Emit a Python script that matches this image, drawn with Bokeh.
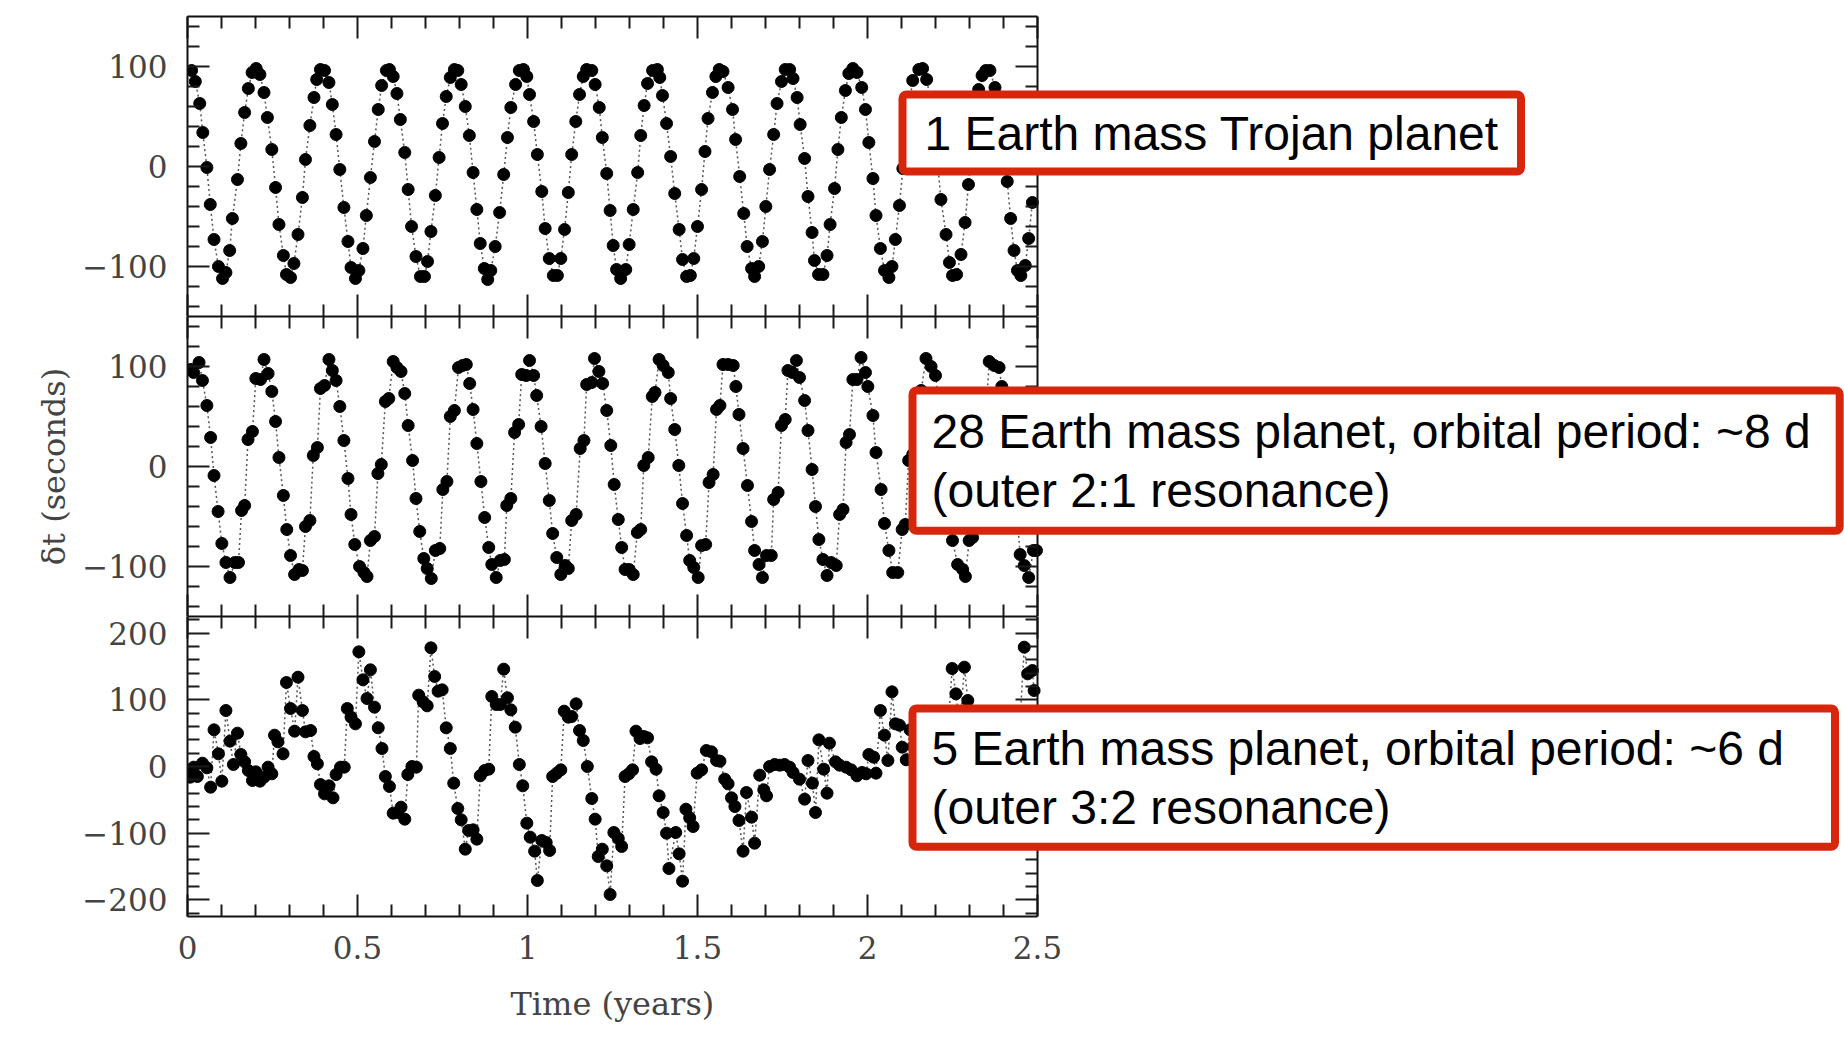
from bokeh.plotting import figure
from bokeh.layouts import column
from bokeh.models import LinearAxis, FixedTicker, Range1d, Label, Title, CustomJSTickFormatter
from bokeh.embed import file_html
from bokeh.resources import INLINE

# ---------------- data ----------------
# Panel 1: 1 Earth mass Trojan planet
trojan_t = [0.012,0.023,0.036,0.045,0.057,0.067,0.078,0.091,0.103,0.113,
    0.124,0.132,0.147,0.157,0.168,0.179,0.190,0.202,0.213,0.225,
    0.235,0.248,0.259,0.269,0.282,0.291,0.303,0.313,0.325,0.338,
    0.347,0.360,0.372,0.380,0.391,0.403,0.416,0.426,0.437,0.448,
    0.460,0.472,0.481,0.494,0.504,0.516,0.526,0.538,0.550,0.561,
    0.571,0.585,0.594,0.605,0.616,0.626,0.639,0.649,0.659,0.672,
    0.685,0.697,0.706,0.716,0.729,0.740,0.750,0.761,0.773,0.785,
    0.795,0.805,0.817,0.829,0.840,0.851,0.861,0.873,0.883,0.892,
    0.905,0.918,0.930,0.941,0.951,0.965,0.976,0.988,0.998,1.006,
    1.018,1.029,1.042,1.052,1.064,1.076,1.088,1.098,1.109,1.120,
    1.130,1.142,1.153,1.164,1.174,1.189,1.199,1.211,1.220,1.233,
    1.243,1.252,1.262,1.274,1.289,1.299,1.311,1.324,1.333,1.343,
    1.353,1.368,1.382,1.389,1.397,1.409,
    1.421,1.433,1.446,1.456,1.468,1.479,1.489,1.500,1.512,1.522,
    1.531,1.544,1.554,1.564,1.575,1.590,1.603,1.612,1.624,1.636,
    1.646,1.659,1.668,1.680,1.691,1.701,1.712,1.724,1.734,1.747,
    1.758,1.771,1.781,1.793,1.802,1.815,1.825,1.837,1.844,1.856,
    1.869,1.881,1.890,1.903,1.913,1.923,1.935,1.945,1.957,1.969,
    1.983,1.994,2.004,2.016,2.025,2.038,2.050,2.063,2.072,2.082,
    2.094,2.104,2.114,2.123,2.133,2.151,2.162,2.174,2.185,2.195,
    2.205,2.216,2.231,2.241,2.250,2.262,2.275,2.287,2.297,2.307,
    2.317,2.327,2.337,2.348,2.360,2.375,2.387,2.399,2.411,2.421,
    2.431,2.441,2.451,2.464,2.474,2.485]
trojan_dt = [96,85,63,34,-1,-38,-73,-100,-112,-106,
    -84,-52,-13,23,54,78,94,98,92,74,
    49,17,-21,-58,-89,-108,-111,-97,-68,-31,
    7,41,69,87,97,96,84,62,32,-3,
    -41,-75,-101,-112,-104,-82,-49,-11,25,57,
    81,96,97,90,73,47,14,-23,-60,-90,
    -110,-110,-95,-65,-29,9,43,70,89,97,
    96,82,60,31,-6,-43,-77,-102,-113,-104,
    -80,-46,-8,29,59,82,96,97,90,72,
    45,12,-25,-62,-92,-109,-109,-92,-63,-26,
    12,45,72,90,97,96,82,59,29,-7,
    -44,-79,-103,-112,-103,-78,-43,-6,31,61,
    83,96,97,89,71,43,
    10,-27,-63,-93,-110,-109,-92,-60,-23,15,
    48,74,90,97,95,79,57,27,-10,-47,
    -80,-102,-110,-100,-75,-40,-3,32,63,85,
    97,97,88,69,42,8,-30,-66,-94,-108,
    -108,-89,-58,-22,17,49,76,93,98,94,
    79,57,24,-12,-49,-82,-104,-111,-100,-73,
    -39,-2,33,62,86,97,98,87,67,40,
    7,-33,-68,-96,-109,-108,-88,-56,-18,17,
    48,77,91,96,96,79,53,20,-15,-52,
    -84,-104,-109,-99,-72,-36]

# Panel 2: 28 Earth mass planet, outer 2:1 resonance
res21_t = [0.010,0.018,0.034,0.044,0.057,0.068,0.078,0.090,0.101,0.113,
    0.125,0.139,0.150,0.159,0.168,0.178,0.191,0.201,0.215,0.225,
    0.237,0.248,0.259,0.269,0.282,0.292,0.303,0.315,0.328,0.338,
    0.347,0.360,0.370,0.382,0.391,0.403,0.416,0.426,0.437,0.448,
    0.460,0.472,0.481,0.492,0.506,0.519,0.528,0.538,0.550,0.560,
    0.570,0.582,0.592,0.605,0.616,0.628,0.639,0.649,0.662,0.672,
    0.683,0.695,0.705,0.717,0.729,0.742,0.751,0.763,0.773,0.785,
    0.797,0.809,0.820,0.830,0.840,0.851,0.863,0.874,0.886,0.895,
    0.908,0.920,0.932,0.939,0.951,0.962,0.974,0.983,0.996,1.006,
    1.018,1.027,1.040,1.052,1.064,1.074,1.086,1.098,1.111,1.120,
    1.130,1.143,1.155,1.166,1.174,1.189,1.197,1.210,1.221,1.233,
    1.245,1.255,1.267,1.277,1.287,1.299,1.311,1.323,1.333,1.342,
    1.355,1.367,1.375,1.387,1.399,1.414,1.421,1.433,1.445,1.456,
    1.468,1.477,1.489,1.502,1.512,1.524,1.534,1.546,1.556,1.566,
    1.575,1.590,1.605,1.613,1.622,1.634,1.647,1.659,1.668,1.681,
    1.691,1.703,1.717,1.724,1.737,1.747,1.758,1.766,1.779,1.791,
    1.800,1.815,1.825,1.837,1.847,1.857,1.869,1.881,1.893,1.908,
    1.918,1.928,1.937,1.947,1.957,1.969,1.981,1.994,2.001,2.016,
    2.025,2.040,2.050,2.063,2.074,2.089,2.102,
    2.111,2.121,2.133,2.145,2.158,2.172,2.187,2.200,2.209,2.219,
    2.231,2.241,2.250,2.265,2.280,2.288,2.299,2.309,2.321,2.331,
    2.341,2.350,2.358,2.373,2.387,2.395,2.405,2.417,2.430,2.441,
    2.449,2.461,2.474,2.488,2.497]
res21_dt = [97,94,104,86,61,29,-9,-45,-77,-96,
    -111,-96,-96,-44,-39,27,35,88,87,107,
    93,75,45,9,-29,-63,-89,-108,-103,-104,
    -60,-54,11,19,78,81,107,96,86,60,
    26,-12,-48,-78,-100,-106,-110,-74,-70,-7,
    2,65,68,105,99,95,73,41,6,-32,
    -65,-92,-102,-112,-84,-82,-23,-15,50,56,
    99,101,102,83,57,23,-15,-51,-81,-98,
    -111,-94,-93,-39,-32,34,42,92,91,106,
    91,71,40,3,-34,-67,-91,-108,-99,-102,
    -54,-48,18,26,82,84,108,95,83,56,
    21,-18,-53,-81,-103,-103,-108,-66,-63,1,
    9,70,74,107,101,94,68,37,1,-37,
    -69,-94,-101,-111,-79,-78,-16,-8,57,61,
    102,102,101,80,52,18,-19,-55,-84,-98,
    -111,-89,-89,-33,-26,41,47,96,94,106,
    89,66,36,-3,-40,-73,-93,-109,-96,-99,
    -48,-43,24,32,87,87,109,94,80,51,
    14,-23,-57,-84,-106,-106,-63,
    -58,6,12,72,76,108,100,91,68,38,
    3,-32,-74,-98,-103,-110,-74,-71,-8,-1,
    59,62,105,101,99,80,52,18,-19,-55,
    -88,-99,-111,-84,-84]

# Panel 3: 5 Earth mass planet, outer 3:2 resonance
res32_t = [0.008,0.018,0.029,0.044,0.057,0.068,0.078,0.091,0.101,0.113,
    0.125,0.135,0.147,0.157,0.168,0.179,0.191,0.201,0.213,0.225,
    0.237,0.248,0.256,0.266,0.281,0.291,0.303,0.315,0.325,0.338,
    0.347,0.362,0.372,0.382,0.391,0.403,0.416,0.428,0.437,0.450,
    0.461,
    0.470,0.481,0.494,0.504,0.516,0.528,0.538,0.550,0.561,0.572,
    0.582,0.594,0.605,0.618,0.628,0.639,0.648,0.660,0.673,0.680,
    0.693,0.705,0.716,0.727,0.737,0.749,0.761,0.773,0.783,0.795,
    0.805,0.817,0.827,0.840,0.851,0.861,0.874,0.886,0.895,0.908,
    0.920,0.930,0.941,0.951,0.964,0.976,0.986,0.998,1.008,1.021,
    1.029,1.042,1.055,1.065,1.074,1.086,1.098,1.108,1.120,1.130,
    1.143,1.153,1.164,1.176,1.189,1.199,1.208,1.220,1.233,1.243,
    1.254,1.267,1.277,1.287,1.298,1.309,1.319,1.331,1.342,1.353,
    1.365,1.378,1.387,1.399,1.409,1.416,1.436,1.446,1.456,1.466,
    1.477,1.487,1.499,1.512,1.526,1.541,1.556,1.566,1.580,1.590,
    1.600,1.610,1.622,1.634,1.644,1.659,1.668,1.683,1.695,1.703,
    1.712,1.727,1.742,1.756,1.771,1.781,1.800,1.815,1.825,1.838,
    1.847,1.857,1.871,1.881,1.888,1.906,1.918,1.937,1.952,1.969,
    1.984,1.996,2.004,2.018,2.025,2.038,2.050,2.060,2.072,2.082,
    2.094,2.102,
    2.114,2.125,2.135,2.148,2.158,2.170,2.182,2.192,2.204,2.216,
    2.226,2.236,2.249,2.260,2.272,2.285,2.295,2.307,2.319,2.331,
    2.343,2.355,2.367,2.379,2.390,2.402,2.414,2.426,2.438,2.450,
    2.461,2.471,2.485,2.490]
res32_dt = [-16,-1,-15,5,-2,-31,55,19,-22,84,
    38,3,50,18,7,-6,-21,-8,-22,-16,
    -1,-11,47,37,19,126,87,53,134,84,
    52,54,15,4,-27,-41,-29,-47,-12,-1,
    -1,
    87,74,64,172,130,102,145,89,58,27,
    -15,-30,-70,-69,-61,-79,-12,0,-1,107,
    97,91,178,135,113,115,58,27,-25,-63,
    -80,-124,-96,-95,-109,-14,-6,-4,105,93,
    93,146,103,85,59,3,-29,-85,-106,-127,
    -171,-111,-114,-126,-15,-10,-5,83,74,75,
    94,54,39,0,-48,-79,-135,-124,-149,-192,
    -99,-108,-120,-15,-11,-5,53,42,45,43,
    7,-4,-44,-69,-100,-153,-99,-131,-172,-64,
    -77,-90,-10,-5,24,22,9,8,-19,-26,
    -47,-60,-81,-127,-39,-76,-115,-13,-35,-44,
    0,3,2,3,-1,-9,-19,-49,9,-25,
    -69,40,-4,-40,35,7,2,-1,-5,-14,
    -9,-11,18,14,-10,84,47,9,112,64,
    62,29,
    10,55,30,0,75,45,15,70,40,5,
    80,50,147,109,60,149,99,40,10,-20,
    25,-10,-45,30,0,-35,55,20,-15,80,
    179,139,144,114]

# ticks and texts
x_major = [0, 0.5, 1, 1.5, 2, 2.5]
x_minor = [0.1, 0.2, 0.3, 0.4, 0.6, 0.7, 0.8, 0.9, 1.1, 1.2, 1.3, 1.4,
           1.6, 1.7, 1.8, 1.9, 2.1, 2.2, 2.3, 2.4]
y_major_a = [-100, 0, 100]
y_minor_a = [-140, -120, -80, -60, -40, -20, 20, 40, 60, 80, 120, 140]
y_major_b = [-200, -100, 0, 100, 200]
y_minor_b = [-220, -180, -160, -140, -120, -80, -60, -40, -20, 20, 40, 60, 80,
             120, 140, 160, 180, 220]
x_title = "Time (years)"
y_title = "\u03b4t (seconds)"
notes = [
    "1 Earth mass Trojan planet",
    "28 Earth mass planet, orbital period: ~8 d\n(outer 2:1 resonance)",
    "5 Earth mass planet, orbital period: ~6 d\n(outer 3:2 resonance)",
]

# ---------------- styling / layout ----------------
W = 1844
LEFT = 187          # frame left edge (px)
BOX_W = 850         # width of the drawn data box (0 .. 2.5 years)
T_MAX = 2.5
X_END = T_MAX * (W - LEFT) / BOX_W   # frame reaches the right edge of the page
RED = "#d8260c"
TICK_COLOR = "#1a1a1a"
LABEL_COLOR = "#444444"
SERIF = "DejaVu Serif"

fmt = CustomJSTickFormatter(code="return tick < 0 ? '\\u2212' + String(Math.abs(tick)) : String(tick);")


def style_axis(ax, show_labels, standoff=20):
    ax.major_tick_in = 22
    ax.major_tick_out = 0
    ax.minor_tick_in = 12
    ax.minor_tick_out = 0
    ax.major_tick_line_color = TICK_COLOR
    ax.minor_tick_line_color = TICK_COLOR
    ax.major_tick_line_width = 2
    ax.minor_tick_line_width = 2
    ax.axis_line_color = "#111111"
    ax.axis_line_width = 2
    ax.formatter = fmt
    if show_labels:
        ax.major_label_text_font = SERIF
        ax.major_label_text_font_size = "31px"
        ax.major_label_text_color = LABEL_COLOR
        ax.major_label_standoff = standoff
    else:
        ax.major_label_text_font_size = "0px"
        ax.major_label_text_color = None
        ax.major_label_standoff = 0


def make_panel(t, dt, yr, ymaj, ymin, height, top_b, bottom_b, xlabels, ytitle=None):
    p = figure(width=W, height=height, x_range=Range1d(0, X_END), y_range=Range1d(*yr),
               output_backend="svg", toolbar_location=None,
               x_axis_location=None, y_axis_location=None,
               min_border_left=LEFT, min_border_right=0,
               min_border_top=top_b, min_border_bottom=bottom_b)
    p.grid.visible = False
    p.outline_line_color = None
    p.background_fill_color = "white"
    p.border_fill_color = "white"

    left = LinearAxis(ticker=FixedTicker(ticks=ymaj, minor_ticks=ymin))
    style_axis(left, True, 20)
    if ytitle:
        left.axis_label = ytitle
        left.axis_label_text_font = SERIF
        left.axis_label_text_font_style = "normal"
        left.axis_label_text_font_size = "32px"
        left.axis_label_text_color = LABEL_COLOR
        left.axis_label_standoff = 6
    p.add_layout(left, "left")

    # right edge of the data box, at t = 2.5
    right = LinearAxis(ticker=FixedTicker(ticks=ymaj, minor_ticks=ymin), fixed_location=T_MAX)
    style_axis(right, False)
    p.add_layout(right, "right")

    top = LinearAxis(ticker=FixedTicker(ticks=x_major, minor_ticks=x_minor), bounds=(0, T_MAX))
    style_axis(top, False)
    p.add_layout(top, "above")

    bottom = LinearAxis(ticker=FixedTicker(ticks=x_major, minor_ticks=x_minor), bounds=(0, T_MAX))
    style_axis(bottom, xlabels, 19)
    p.add_layout(bottom, "below")
    if xlabels:
        # axis title, centred under the data box (t = 0 .. 2.5)
        ttl = Title(text=x_title, align="left", offset=323,
                    text_font=SERIF, text_font_size="32px", text_font_style="normal",
                    text_color=LABEL_COLOR, standoff=46, vertical_align="top")
        p.add_layout(ttl, "below")

    p.line(t, dt, line_color="#555555", line_width=1.5, line_dash="2 3")
    p.scatter(t, dt, size=12, fill_color="black", line_color="black")
    return p


def note(p, text, sx, sy, pad):
    # sx, sy: screen offsets (from the frame's bottom-left) of the box's top-left corner
    lab = Label(x=sx, y=sy, x_units="screen", y_units="screen", text=text,
                anchor="top_left",
                text_font="Liberation Sans", text_font_size="48px",
                text_color="black", text_line_height=1.12,
                background_fill_color="white", background_fill_alpha=1.0,
                border_line_color=RED, border_line_width=8,
                border_radius=4, padding=pad)
    p.add_layout(lab)


p1 = make_panel(trojan_t, trojan_dt, (-150, 150), y_major_a, y_minor_a, 316, 16, 0, False)
p2 = make_panel(res21_t, res21_dt, (-150, 150), y_major_a, y_minor_a, 300, 0, 0, False, y_title)
p3 = make_panel(res32_t, res32_dt, (-225, 225), y_major_b, y_minor_b, 432, 0, 132, True)

note(p1, notes[0], 715, 222, dict(left=22, right=22, top=12, bottom=12))
note(p2, notes[1], 725, 226, dict(left=19, right=29, top=14, bottom=14))
note(p3, notes[2], 725, 208, dict(left=19, right=51, top=13, bottom=13))

layout = column(p1, p2, p3, spacing=0)

html = file_html(layout, INLINE, title="Transit timing variations")
with open("out.html", "w") as f:
    f.write(html)
